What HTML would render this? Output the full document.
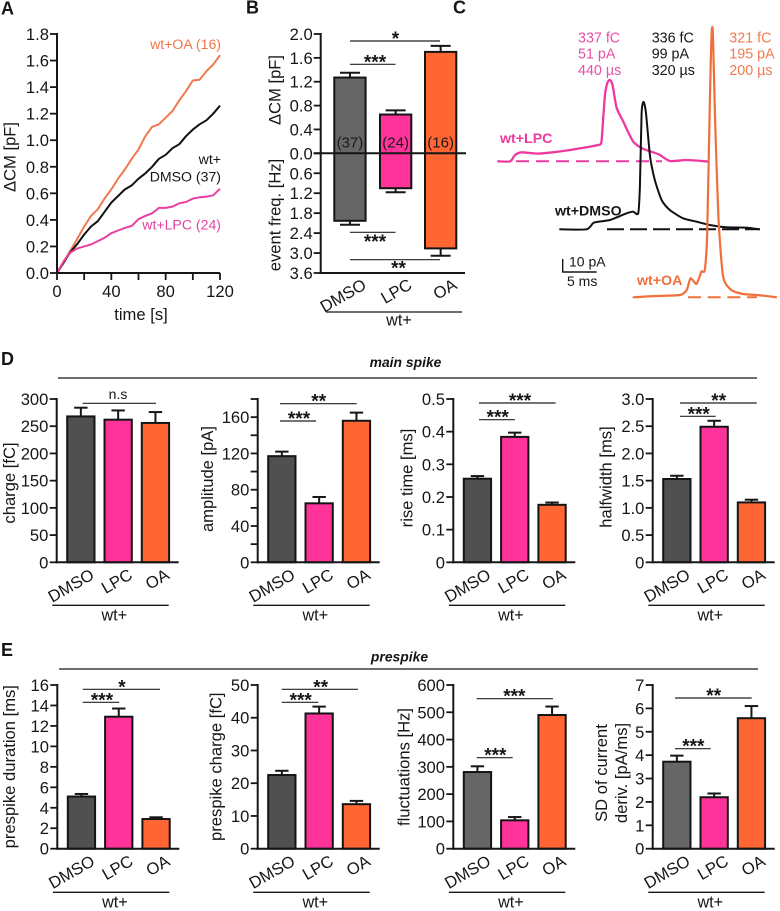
<!DOCTYPE html>
<html lang="en">
<head>
<meta charset="utf-8">
<title>Capacitance and spike figure</title>
<style>
html,body{margin:0;padding:0;background:#fff;}
#figure{display:block;width:780px;height:911px;font-family:"Liberation Sans",Arial,sans-serif;filter:blur(0.35px);}
</style>
</head>
<body>
<svg id="figure" xmlns="http://www.w3.org/2000/svg" width="780" height="911" viewBox="0 0 780 911"></svg>
<script>
// ---------- Panel A data ----------
const timeA = [0,5,10,15,20,25,30,35,40,45,50,55,60,65,70,75,80,85,90,95,100,105,110,115,120];
const cmOA = [0,.09,.17,.26,.35,.43,.48,.56,.63,.71,.78,.86,.93,1.03,1.10,1.12,1.17,1.22,1.30,1.37,1.45,1.455,1.52,1.57,1.64];
const cmDMSO = [0,.08,.16,.22,.29,.35,.39,.46,.53,.58,.63,.66,.71,.75,.80,.86,.89,.94,.97,1.03,1.08,1.12,1.15,1.20,1.26];
const cmLPC = [0,.09,.155,.185,.20,.215,.24,.265,.30,.32,.34,.355,.405,.43,.45,.49,.49,.50,.525,.535,.56,.57,.575,.585,.635];
const tickLabelsAy = ['0.0','0.2','0.4','0.6','0.8','1.0','1.2','1.4','1.6','1.8'];
const tickValuesAx = [0,20,40,60,80,100,120];
const tickLabelsAx = ['0','40','80','120'];

// ---------- Panel B data ----------
const groups = ['DMSO','LPC','OA'];
const cmMeansB = [1.27,0.65,1.70];
const cmTopsB = [1.35,0.72,1.80];
const freqMeansB = [2.03,1.05,2.86];
const freqTopsB = [2.15,1.17,3.08];
const cellCountsB = ['(37)','(24)','(16)'];
const tickLabelsBup = ['0.0','0.4','0.8','1.2','1.6','2.0'];
const tickLabelsBdown = ['0.6','1.2','1.8','2.4','3.0','3.6'];

// ---------- Panel C data (ms, pA) ----------
const lpcMs = [0,1.9,2.6,3.6,5.8,8.2,10.7,13.1,14.85,15.3,15.55,15.84,16.2,16.57,16.95,17.56,18.5,20,21.5,23.7,25.4,27.8,31.1];
const lpcPa = [0,0,4.75,6.75,5.75,6.75,8.5,10.5,12.25,14,30,50,59,61,57,40,30,14.7,9.2,5.3,0.2,1,-0.25];
const dmsoMs = [0,4,5.1,7.45,9.9,10.85,11.6,11.85,12.1,12.4,12.75,13.35,14.05,15.05,16.25,18.2,20.15,22.1,24.6,27.5,29.4];
const dmsoPa = [0,0,5,7,12,13.25,12,32,87,95.75,87,54.5,37,22,14.5,8.25,5.75,3.25,1.5,1.25,0];
const oaMs = [0,3.5,6.95,7.95,8.5,9.4,10.1,10.6,10.95,11.35,11.6,11.8,12.1,12.6,13.3,14.5,16.2,18.2,21.2];
const oaPa = [0,1,1.75,5.5,14.25,10,19.25,20.5,48,148,198,198,135.5,60.5,15.5,5.5,2.5,1.75,0];
const lpcValues = ['337 fC','51 pA','440 µs'];
const dmsoValues = ['336 fC','99 pA','320 µs'];
const oaValues = ['321 fC','195 pA','200 µs'];

// ---------- Panel D data ----------
const chargeMeans = [268,262,256];
const chargeTops = [284,279,276];
const chargeLabels = ['0','50','100','150','200','250','300'];
const chargeTicks = [0,50,100,150,200,250,300];
const ampMeans = [117,65,156];
const ampTops = [122,72,165];
const ampLabels = ['0','40','80','120','160'];
const ampTicks = [0,20,40,60,80,100,120,140,160,180];
const riseMeans = [.256,.384,.176];
const riseTops = [.264,.397,.183];
const riseLabels = ['0','0.1','0.2','0.3','0.4','0.5'];
const riseTicks = [0,.1,.2,.3,.4,.5];
const halfMeans = [1.53,2.49,1.10];
const halfTops = [1.59,2.60,1.15];
const halfLabels = ['0','0.5','1.0','1.5','2.0','2.5','3.0'];
const halfTicks = [0,.5,1,1.5,2,2.5,3];

// ---------- Panel E data ----------
const durMeans = [5.1,12.9,2.9];
const durTops = [5.35,13.7,3.07];
const durLabels = ['0','2','4','6','8','10','12','14','16'];
const durTicks = [0,2,4,6,8,10,12,14,16];
const preChargeMeans = [22.5,41.3,13.6];
const preChargeTops = [23.8,43.4,14.6];
const preChargeLabels = ['0','10','20','30','40','50'];
const preChargeTicks = [0,10,20,30,40,50];
const fluctMeans = [281,104,490];
const fluctTops = [302,116,521];
const fluctLabels = ['0','100','200','300','400','500','600'];
const fluctTicks = [0,100,200,300,400,500,600];
const sdMeans = [3.72,2.2,5.58];
const sdTops = [3.98,2.36,6.1];
const sdLabels = ['0','1','2','3','4','5','6','7'];
const sdTicks = [0,1,2,3,4,5,6,7];

// ---------- helpers ----------
const svg = document.getElementById('figure');
const NS = 'http://www.w3.org/2000/svg';
const INK = '#161616';
const ORANGE_TEXT = '#f0764a';
const PINK_TEXT = '#e93f9f';
const FONT = 16.6;

function add(tag, attrs, name, parent, txt) {
  const el = document.createElementNS(NS, tag);
  for (const k in attrs) el.setAttribute(k, attrs[k]);
  
  
  if (txt !== undefined) el.textContent = txt;
  (parent || svg).appendChild(el);
  return el;
}
function line(x1, y1, x2, y2, name, p, w, c) {
  return add('line', {x1, y1, x2, y2, stroke: c || INK, 'stroke-width': w || 2}, name, p);
}
function text(x, y, s, name, p, opts) {
  const o = opts || {};
  const attrs = {x, y, 'font-size': o.size || FONT, fill: o.fill || INK, 'text-anchor': o.anchor || 'start'};
  if (o.weight) attrs['font-weight'] = o.weight;
  if (o.style) attrs['font-style'] = o.style;
  if (o.rotate !== undefined) attrs.transform = 'rotate(' + o.rotate + ' ' + x + ' ' + y + ')';
  return add('text', attrs, name, p, s);
}
function yTitle(cx, cy, s, name, p, size) {
  // cx is the visual centre of the rotated text
  return text(cx + 5.5, cy, s, name, p, {anchor: 'middle', rotate: -90, size: size || 16.6});
}
function sig(x1, x2, y, label, cx, name, p, starOffset) {
  line(x1, y, x2, y, name + '-line', p, 1.2, '#222');
  if (label === 'n.s') {
    text(cx, y - 4.5, label, name + '-label', p, {anchor: 'middle', size: 14});
  } else {
    text(cx, y + (starOffset === undefined ? 4 : starOffset), label, name + '-stars', p, {anchor: 'middle', size: 19, weight: 'bold'});
  }
}

const FILLS = ['#505050', '#ff3399', '#ff6633'];

function barPanel(cfg) {
  const g = add('g', {}, cfg.name + '-chart');
  const y = v => cfg.y0 - (v / cfg.yMax) * (cfg.y0 - cfg.yTop);
  const x = i => cfg.x + 9.5 + i * 37.3;
  const BW = 29.3;
  const names = ['dmso', 'lpc', 'oa'];
  // error bars first, then bars
  cfg.means.forEach((m, i) => {
    const cx = x(i) + BW / 2;
    line(cx, y(m), cx, y(cfg.tops[i]), cfg.name + '-error-' + names[i], g, 2);
    line(cx - 6.7, y(cfg.tops[i]), cx + 6.7, y(cfg.tops[i]), cfg.name + '-error-cap-' + names[i], g, 2);
    const fill = (cfg.greyFill && i === 0) ? cfg.greyFill : FILLS[i];
    add('rect', {x: x(i) + 1, y: y(m), width: BW - 2, height: cfg.y0 - y(m), fill, stroke: '#141414', 'stroke-width': 2}, cfg.name + '-bar-' + names[i], g);
    text(x(i) + BW / 2 + 15 + (i === 0 ? -0.5 : (i === 1 ? 0.5 : 0)), cfg.y0 + 15.7, groups[i], cfg.name + '-label-' + names[i], g, {anchor: 'end', rotate: -30});
  });
  // axes
  line(cfg.x, cfg.yTop - 1, cfg.x, cfg.y0 + 1, cfg.name + '-y-axis', g, 2);
  line(cfg.x - 1, cfg.y0, cfg.x + 122, cfg.y0, cfg.name + '-x-axis', g, 2);
  cfg.ticks.forEach(t => line(cfg.x - 7, y(t), cfg.x, y(t), cfg.name + '-y-tick', g, 1.8));
  cfg.labels.forEach(l => text(cfg.x - 8.3, y(Number(l)) + 6, l, cfg.name + '-y-label', g, {anchor: 'end'}));
  // grouping
  line(cfg.x - 4.4, cfg.underY, cfg.x + 112, cfg.underY, cfg.name + '-group-line', g, 1.3);
  text(cfg.x + 57.6, cfg.underY + 15.2, 'wt+', cfg.name + '-group-label', g, {anchor: 'middle', size: 16.2});
  return g;
}

// ---------- panel letters ----------
text(1, 14.5, 'A', 'panel-label-a', null, {weight: 'bold', size: 18});
text(246, 13.5, 'B', 'panel-label-b', null, {weight: 'bold', size: 18});
text(453, 13.5, 'C', 'panel-label-c', null, {weight: 'bold', size: 18});
text(1, 365, 'D', 'panel-label-d', null, {weight: 'bold', size: 18});
text(1, 656, 'E', 'panel-label-e', null, {weight: 'bold', size: 18});

// ---------- Panel A ----------
(function () {
  const g = add('g', {}, 'panel-a-chart');
  const X0 = 57, X1 = 220, Y0 = 273, Y1 = 34;
  const x = t => X0 + (t / 120) * (X1 - X0);
  const y = v => Y0 - (v / 1.8) * (Y0 - Y1);
  const series = [[cmOA, '#ee7a4d', 'wt-oa-line'], [cmDMSO, '#111', 'wt-dmso-line'], [cmLPC, '#e83fa2', 'wt-lpc-line']];
  series.forEach(s => {
    const pts = timeA.map((t, i) => x(t).toFixed(1) + ',' + y(s[0][i]).toFixed(1)).join(' ');
    add('polyline', {points: pts, fill: 'none', stroke: s[1], 'stroke-width': 2, 'stroke-linejoin': 'round'}, s[2], g);
  });
  line(X0, Y1 - 1, X0, Y0 + 1, 'a-y-axis', g, 2);
  line(X0 - 1, Y0, X1, Y0, 'a-x-axis', g, 2);
  tickLabelsAy.forEach(l => {
    line(X0 - 7, y(Number(l)), X0, y(Number(l)), 'a-y-tick', g, 1.8);
    text(X0 - 8, y(Number(l)) + 6, l, 'a-y-label', g, {anchor: 'end'});
  });
  tickValuesAx.forEach(t => line(x(t), Y0, x(t), Y0 + 7, 'a-x-tick', g, 1.8));
  tickLabelsAx.forEach(l => text(x(Number(l)), 297, l, 'a-x-label', g, {anchor: 'middle'}));
  text(141, 320, 'time [s]', 'a-x-title', g, {anchor: 'middle', size: 16.6});
  yTitle(10, 157, '\u0394CM [pF]', 'a-y-title', g);
  text(221, 49, 'wt+OA (16)', 'legend-wt-oa', g, {anchor: 'end', size: 14.1, fill: ORANGE_TEXT});
  text(221, 164, 'wt+', 'legend-wt-dmso-1', g, {anchor: 'end', size: 14.1});
  text(221, 181.5, 'DMSO (37)', 'legend-wt-dmso-2', g, {anchor: 'end', size: 14.1});
  text(221, 229.3, 'wt+LPC (24)', 'legend-wt-lpc', g, {anchor: 'end', size: 14.1, fill: PINK_TEXT});
})();

// ---------- Panel B ----------
(function () {
  const g = add('g', {}, 'panel-b-chart');
  const AX = 320.7, Y0 = 153.3, TOP = 34, BOT = 273;
  const yUp = v => Y0 - (v / 2) * (Y0 - TOP);
  const yDown = v => Y0 + (v / 3.6) * (BOT - Y0);
  const lefts = [333.3, 379, 424];
  const BW = 33.3;
  const names = ['dmso', 'lpc', 'oa'];
  const fills = ['#666666', '#ff3399', '#ff6633'];
  names.forEach((n, i) => {
    const cx = lefts[i] + BW / 2;
    line(cx, yUp(cmMeansB[i]), cx, yUp(cmTopsB[i]), 'b-cm-error-' + n, g, 2);
    line(cx - 10, yUp(cmTopsB[i]), cx + 10, yUp(cmTopsB[i]), 'b-cm-error-cap-' + n, g, 2);
    line(cx, yDown(freqMeansB[i]), cx, yDown(freqTopsB[i]), 'b-freq-error-' + n, g, 2);
    line(cx - 10, yDown(freqTopsB[i]), cx + 10, yDown(freqTopsB[i]), 'b-freq-error-cap-' + n, g, 2);
    add('rect', {x: lefts[i] + 1, y: yUp(cmMeansB[i]), width: BW - 2, height: yDown(freqMeansB[i]) - yUp(cmMeansB[i]), fill: fills[i], stroke: '#141414', 'stroke-width': 2}, 'b-bar-' + n, g);
    text(cx, 147.5, cellCountsB[i], 'b-count-' + n, g, {anchor: 'middle', size: 15, fill: '#1a1a1a'});
    text(cx + 17.5, 288, groups[i], 'b-label-' + n, g, {anchor: 'end', rotate: -30});
  });
  line(AX, TOP - 1, AX, BOT + 1, 'b-y-axis', g, 2);
  line(AX - 1, BOT, 465, BOT, 'b-x-axis', g, 2);
  line(AX - 7, Y0, 466, Y0, 'b-zero-line', g, 2);
  tickLabelsBup.forEach(l => {
    line(AX - 7, yUp(Number(l)), AX, yUp(Number(l)), 'b-up-tick', g, 1.8);
    text(AX - 8, yUp(Number(l)) + 6, l, 'b-up-label', g, {anchor: 'end'});
  });
  tickLabelsBdown.forEach(l => {
    line(AX - 7, yDown(Number(l)), AX, yDown(Number(l)), 'b-down-tick', g, 1.8);
    text(AX - 8, yDown(Number(l)) + 6, l, 'b-down-label', g, {anchor: 'end'});
  });
  yTitle(275, 90, '\u0394CM [pF]', 'b-y-title-top', g);
  yTitle(275, 215, 'event freq. [Hz]', 'b-y-title-bottom', g);
  sig(350, 440, 41, '*', 395.5, 'b-sig-top', g, 4);
  sig(350, 395.5, 64.3, '***', 375, 'b-sig-upper', g);
  sig(350, 395.5, 232.3, '***', 375, 'b-sig-lower', g, 15.5);
  sig(350, 440, 259.7, '**', 398.5, 'b-sig-bottom', g, 15);
  line(326, 312, 462, 312, 'b-group-line', g, 1.3);
  text(399, 325.7, 'wt+', 'b-group-label', g, {anchor: 'middle', size: 16.2});
})();

// ---------- Panel C ----------
(function () {
  const g = add('g', {}, 'panel-c-traces');
  const PX_MS = 6.8, PX_PA = 1.333;
  function trace(ms, pa, x0, base, color, w, name) {
    const px = ms.map(t => x0 + t * PX_MS);
    const py = pa.map(v => base - v * PX_PA);
    const k = 1 / 9;
    let d = 'M' + px[0].toFixed(1) + ' ' + py[0].toFixed(1);
    for (let i = 0; i < px.length - 1; i++) {
      const a = Math.max(i - 1, 0), b = Math.min(i + 2, px.length - 1);
      d += 'C' + (px[i] + (px[i + 1] - px[a]) * k).toFixed(1) + ' ' + (py[i] + (py[i + 1] - py[a]) * k).toFixed(1) + ' ' +
        (px[i + 1] - (px[b] - px[i]) * k).toFixed(1) + ' ' + (py[i + 1] - (py[b] - py[i]) * k).toFixed(1) + ' ' +
        px[i + 1].toFixed(1) + ' ' + py[i + 1].toFixed(1);
    }
    add('path', {d, fill: 'none', stroke: color, 'stroke-width': w, 'stroke-linejoin': 'round'}, name, g);
  }
  function dash(x1, x2, y, color, pattern, name) {
    add('line', {x1, y1: y, x2, y2: y, stroke: color, 'stroke-width': 2, 'stroke-dasharray': pattern}, name, g);
  }
  dash(516, 662, 161.3, '#e83fa2', '13 7', 'lpc-baseline');
  trace(lpcMs, lpcPa, 497.3, 161.3, '#ee3a9f', 2.3, 'lpc-trace');
  dash(607, 760, 229.3, '#111', '17 6', 'dmso-baseline');
  trace(dmsoMs, dmsoPa, 559.3, 229.3, '#111', 2, 'dmso-trace');
  dash(688, 757, 297.3, '#f0703c', '13 6.7', 'oa-baseline');
  trace(oaMs, oaPa, 632.7, 297.3, '#f0703c', 2.2, 'oa-trace');

  [lpcValues, dmsoValues, oaValues].forEach((vals, col) => {
    const xs = [578, 651.7, 729.3];
    const colors = ['#e84fa6', INK, '#f07b50'];
    const ys = [42.7, 58.7, 75];
    vals.forEach((v, i) => text(xs[col], ys[i], v, 'trace-value', g, {size: 14.3, fill: colors[col]}));
  });
  text(500, 143, 'wt+LPC', 'trace-label-lpc', g, {weight: 'bold', size: 14.2, fill: '#ee3a9f'});
  text(555, 215.5, 'wt+DMSO', 'trace-label-dmso', g, {weight: 'bold', size: 14.2});
  text(637, 285, 'wt+OA', 'trace-label-oa', g, {weight: 'bold', size: 14.2, fill: '#f0703c'});
  add('polyline', {points: '562.7,259 562.7,272 596.7,272', fill: 'none', stroke: INK, 'stroke-width': 1.4}, 'scale-bar', g);
  text(569, 266.7, '10 pA', 'scale-bar-current', g, {size: 14});
  text(567, 286, '5 ms', 'scale-bar-time', g, {size: 14});
})();

// ---------- Section headers ----------
text(405.5, 367, 'main spike', 'section-title-main-spike', null, {anchor: 'middle', weight: 'bold', style: 'italic', size: 13.9});
line(58, 378, 757, 378, 'section-line-main-spike', null, 1.2);
text(399.5, 661.7, 'prespike', 'section-title-prespike', null, {anchor: 'middle', weight: 'bold', style: 'italic', size: 13.9});
line(59, 669, 758, 669, 'section-line-prespike', null, 1.2);

// ---------- Panel D ----------
const D_Y0 = 562.3, D_TOP = 399, D_UNDER = 605.3;
barPanel({name: 'charge', x: 56.7, y0: D_Y0, yTop: D_TOP, yMax: 300, means: chargeMeans, tops: chargeTops, ticks: chargeTicks, labels: chargeLabels, underY: D_UNDER});
yTitle(9.5, 483, 'charge [fC]', 'charge-y-title');
sig(82.7, 156, 403.3, 'n.s', 118, 'charge-sig');

barPanel({name: 'amplitude', x: 257.7, y0: D_Y0, yTop: D_TOP, yMax: 180, means: ampMeans, tops: ampTops, ticks: ampTicks, labels: ampLabels, underY: D_UNDER});
yTitle(207.7, 479, 'amplitude [pA]', 'amplitude-y-title');
sig(280, 356.7, 403.7, '**', 318.7, 'amplitude-sig-oa');
sig(280, 316, 421, '***', 299, 'amplitude-sig-lpc');

barPanel({name: 'rise-time', x: 453.3, y0: D_Y0, yTop: D_TOP, yMax: .5, means: riseMeans, tops: riseTops, ticks: riseTicks, labels: riseLabels, underY: D_UNDER});
yTitle(407, 478, 'rise time [ms]', 'rise-time-y-title');
sig(479, 555.7, 403, '***', 520, 'rise-time-sig-oa');
sig(479, 515, 419.7, '***', 497.7, 'rise-time-sig-lpc');

barPanel({name: 'halfwidth', x: 652.7, y0: D_Y0, yTop: D_TOP, yMax: 3, means: halfMeans, tops: halfTops, ticks: halfTicks, labels: halfLabels, underY: D_UNDER});
yTitle(606, 477, 'halfwidth [ms]', 'halfwidth-y-title');
sig(680, 756.7, 403, '**', 718.7, 'halfwidth-sig-oa');
sig(680, 715.7, 416.3, '***', 698.7, 'halfwidth-sig-lpc');

// ---------- Panel E ----------
const E_Y0 = 848.7, E_TOP = 685, E_UNDER = 892.3;
barPanel({name: 'prespike-duration', x: 57.3, y0: E_Y0, yTop: E_TOP, yMax: 16, means: durMeans, tops: durTops, ticks: durTicks, labels: durLabels, underY: E_UNDER});
yTitle(9.5, 766.7, 'prespike duration [ms]', 'prespike-duration-y-title');
sig(82.7, 160, 689.3, '*', 122, 'prespike-duration-sig-oa');
sig(82.7, 119.3, 702.3, '***', 102, 'prespike-duration-sig-lpc');

barPanel({name: 'prespike-charge', x: 257.7, y0: E_Y0, yTop: E_TOP, yMax: 50, means: preChargeMeans, tops: preChargeTops, ticks: preChargeTicks, labels: preChargeLabels, underY: E_UNDER});
yTitle(216, 766.7, 'prespike charge [fC]', 'prespike-charge-y-title');
sig(281.7, 358, 689.3, '**', 320.7, 'prespike-charge-sig-oa');
sig(281.7, 318.3, 702.3, '***', 300.7, 'prespike-charge-sig-lpc');

barPanel({name: 'fluctuations', x: 453.3, y0: E_Y0, yTop: E_TOP, yMax: 600, means: fluctMeans, tops: fluctTops, ticks: fluctTicks, labels: fluctLabels, underY: E_UNDER, greyFill: '#666666'});
yTitle(404, 767, 'fluctuations [Hz]', 'fluctuations-y-title');
sig(476.7, 553, 698.7, '***', 514.3, 'fluctuations-sig-oa');
sig(476.7, 512.7, 757.7, '***', 495.3, 'fluctuations-sig-lpc');

barPanel({name: 'current-sd', x: 652.7, y0: E_Y0, yTop: E_TOP, yMax: 7, means: sdMeans, tops: sdTops, ticks: sdTicks, labels: sdLabels, underY: E_UNDER, greyFill: '#666666'});
yTitle(601.7, 773, 'SD of current', 'current-sd-y-title-1');
yTitle(621.7, 773, 'deriv. [pA/ms]', 'current-sd-y-title-2');
sig(675, 751.7, 698, '**', 713.7, 'current-sd-sig-oa');
sig(675, 710.7, 748.7, '***', 693.3, 'current-sd-sig-lpc');
</script>
</body>
</html>
